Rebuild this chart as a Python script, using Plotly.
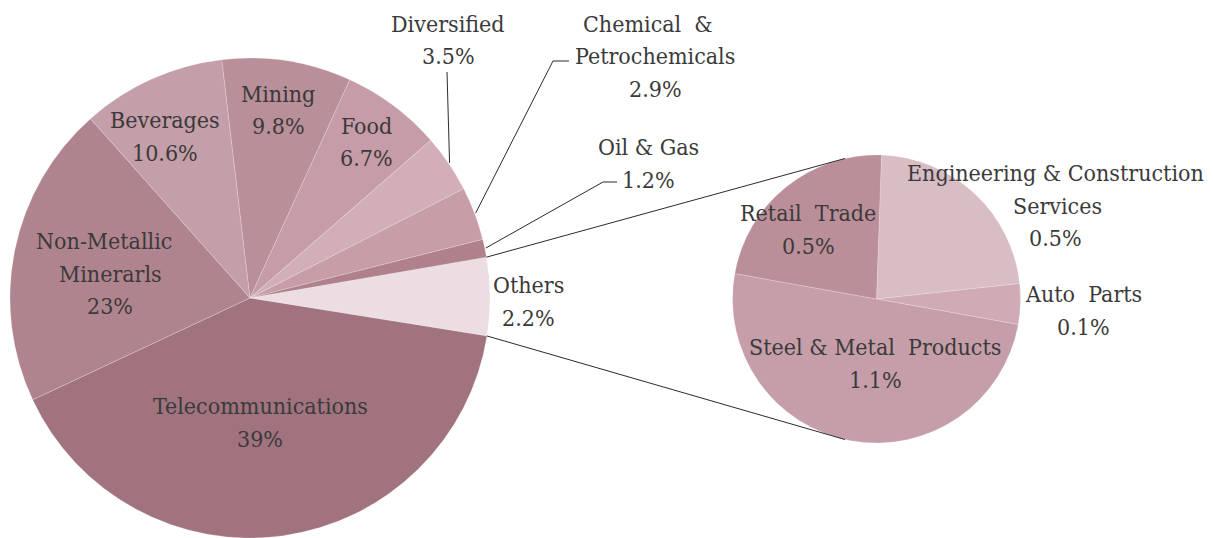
import math
import plotly.graph_objects as go

W, H = 1213, 538

# ---------------- data ----------------
# Main pie, listed clockwise starting at the upper edge of "Others"
main_labels = ["Others", "Telecommunications", "Non-Metallic Minerarls", "Beverages",
               "Mining", "Food", "Diversified", "Chemical & Petrochemicals", "Oil & Gas"]
# slice sizes as drawn in the picture (share of the full circle, %)
main_share = [5.25, 40.5, 20.4, 9.7, 8.7, 6.75, 3.9, 3.6, 1.2]
# percentages printed on the labels
main_pct = ["2.2%", "39%", "23%", "10.6%", "9.8%", "6.7%", "3.5%", "2.9%", "1.2%"]
main_lines = [["Others"], ["Telecommunications"], ["Non-Metallic", "Minerarls"], ["Beverages"],
              ["Mining"], ["Food"], ["Diversified"], ["Chemical\u00a0 &", "Petrochemicals"], ["Oil & Gas"]]

# Secondary pie (breakdown of "Others"), clockwise from 12 o'clock
sub_labels = ["Engineering & Construction Services", "Auto Parts", "Steel & Metal Products", "Retail Trade"]
sub_values = [0.5, 0.1, 1.1, 0.5]
sub_pct = ["0.5%", "0.1%", "1.1%", "0.5%"]
sub_lines = [["Engineering & Construction", "Services"], ["Auto\u00a0 Parts"],
             ["Steel & Metal\u00a0 Products"], ["Retail\u00a0 Trade"]]

# ---------------- style ----------------
main_colors = ["#ecdde2", "#a1737f", "#b0848e", "#c49ea8", "#b98f99",
               "#c59ca7", "#d2afb8", "#c79da8", "#b0808b"]
sub_colors = ["#d8bdc5", "#d0aab4", "#c59ea9", "#bb8f99"]
FONT = "DejaVu Serif Condensed, DejaVu Serif, serif"
TXT = "#3a3a3a"
FS = 23
LINE_GAP = 32.5

# geometry (pixels)
MAIN_C, MAIN_R = (250, 298), 240
SUB_C, SUB_R = (876.5, 299), 144
MAIN_ROT = 80.2
SUB_ROT = 2.0


def dom(c, r):
    return dict(x=[(c[0] - r) / W, (c[0] + r) / W],
                y=[(H - c[1] - r) / H, (H - c[1] + r) / H])


def rim(c, r, theta):
    t = math.radians(theta)
    return (c[0] + r * math.sin(t), c[1] - r * math.cos(t))


def bounds(vals, rot):
    tot = sum(vals)
    out = [rot]
    for v in vals:
        out.append(out[-1] + 360 * v / tot)
    return out


fig = go.Figure()
fig.add_trace(go.Pie(labels=main_labels, values=main_share, sort=False, direction="clockwise",
                     rotation=MAIN_ROT, marker=dict(colors=main_colors,
                     line=dict(color="rgba(255,255,255,0.35)", width=0.6)),
                     textinfo="none", hoverinfo="skip", showlegend=False,
                     domain=dom(MAIN_C, MAIN_R)))
fig.add_trace(go.Pie(labels=sub_labels, values=sub_values, sort=False, direction="clockwise",
                     rotation=SUB_ROT, marker=dict(colors=sub_colors,
                     line=dict(color="rgba(255,255,255,0.35)", width=0.6)),
                     textinfo="none", hoverinfo="skip", showlegend=False,
                     domain=dom(SUB_C, SUB_R)))


def px(x, y):
    return x / W, 1 - y / H


def add_label(x, y, lines, xs=None):
    for k, ln in enumerate(lines):
        xx = xs[k] if xs else x
        ax, ay = px(xx, y + k * LINE_GAP)
        fig.add_annotation(x=ax, y=ay, xref="paper", yref="paper", text=ln, showarrow=False,
                           xanchor="center", yanchor="middle",
                           font=dict(family=FONT, size=FS, color=TXT))


# label positions (pixel centre of the first line)
main_pos = {
    "Others": (528, 285, None),
    "Telecommunications": (260, 406, None),
    "Non-Metallic Minerarls": (104, 241, [104, 110, 110]),
    "Beverages": (165, 120, None),
    "Mining": (278, 94, None),
    "Food": (366, 126, None),
    "Diversified": (448, 24, None),
    "Chemical & Petrochemicals": (648, 24, [648, 655, 655]),
    "Oil & Gas": (648, 147, None),
}
for lab, lines, pct in zip(main_labels, main_lines, main_pct):
    x, y, xs = main_pos[lab]
    add_label(x, y, lines + [pct], xs)

sub_pos = {
    "Engineering & Construction Services": (1055, 173, [1055, 1057, 1055]),
    "Auto Parts": (1083, 294, None),
    "Steel & Metal Products": (875, 347, None),
    "Retail Trade": (808, 213, None),
}
for lab, lines, pct in zip(sub_labels, sub_lines, sub_pct):
    x, y, xs = sub_pos[lab]
    add_label(x, y, lines + [pct], xs)


def seg(points):
    for (x0, y0), (x1, y1) in zip(points[:-1], points[1:]):
        a0, b0 = px(x0, y0)
        a1, b1 = px(x1, y1)
        fig.add_shape(type="line", xref="paper", yref="paper", x0=a0, y0=b0, x1=a1, y1=b1,
                      line=dict(color="#2b2b2b", width=1))


mb = bounds(main_share, MAIN_ROT)
mid = {lab: (mb[i] + mb[i + 1]) / 2 for i, lab in enumerate(main_labels)}

# leader lines
seg([rim(MAIN_C, MAIN_R + 1, mid["Diversified"]), (447, 72)])
seg([rim(MAIN_C, MAIN_R + 1, mid["Chemical & Petrochemicals"]), (553, 61), (569, 61)])
seg([rim(MAIN_C, MAIN_R + 1, mid["Oil & Gas"]), (603, 182), (617, 182)])

# connectors from "Others" to the secondary pie
seg([rim(MAIN_C, MAIN_R, mb[0]), rim(SUB_C, SUB_R, -12.6)])
seg([rim(MAIN_C, MAIN_R, mb[1]), rim(SUB_C, SUB_R, 192.6)])

fig.update_layout(width=W, height=H, autosize=False,
                  margin=dict(l=0, r=0, t=0, b=0),
                  paper_bgcolor="white", plot_bgcolor="white")

fig.write_html("out.html", config={"displayModeBar": False},
               post_script="document.body.style.margin='0';")
